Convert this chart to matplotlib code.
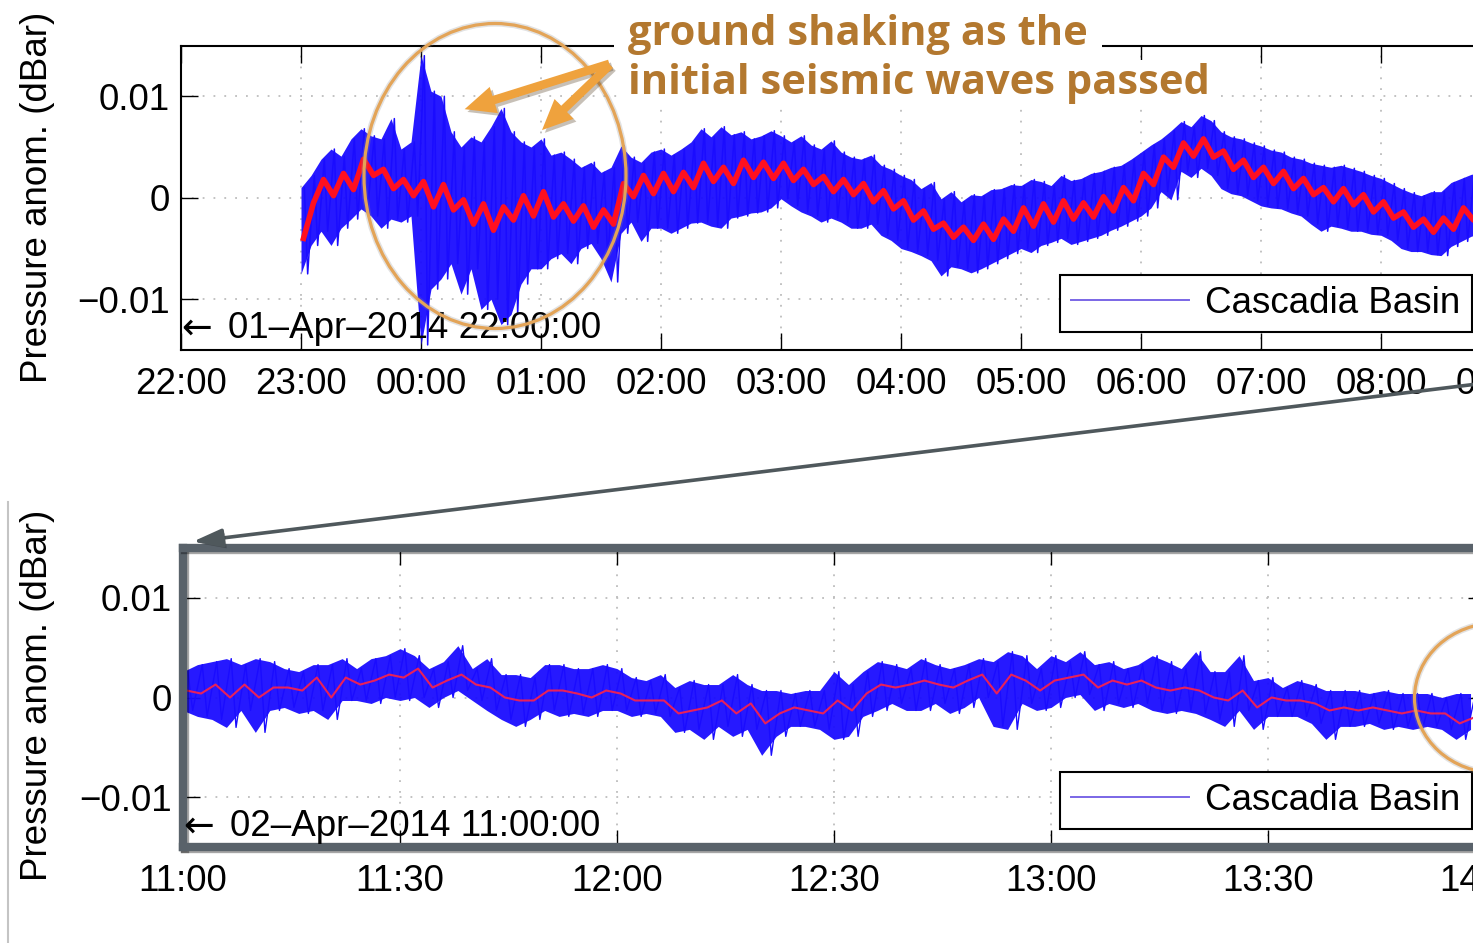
import matplotlib
matplotlib.use("Agg")
import matplotlib.pyplot as plt
import matplotlib.patheffects as pe
from matplotlib.lines import Line2D
from matplotlib.patches import Ellipse, FancyArrowPatch

plt.rcParams["font.family"] = ["Liberation Sans", "DejaVu Sans"]

W, H = 1473, 943
FS = 26.5
MDBAR = 1e-3          # all series below are in units of 0.001 dBar

# ─── Top panel: 01-Apr-2014 22:00 → 02-Apr 09:00, 5-min envelope ──────────────
top_ticklabels = ["22:00", "23:00", "00:00", "01:00", "02:00", "03:00",
                  "04:00", "05:00", "06:00", "07:00", "08:00", "09:00"]
top_start_h = 1.0            # data begins at 23:00 (hours after 22:00)
top_step_h = 5 / 60

top_hi = [1.0, 2.2, 3.8, 4.8, 4.1, 5.8, 6.8, 6.1, 5.8, 7.8, 4.8, 5.5,
          14.0, 10.5, 10.0, 6.5, 5.0, 6.0, 5.5, 7.0, 8.8, 6.5, 5.5, 5.0,
          5.8, 4.2, 4.5, 3.8, 3.0, 3.5, 2.5, 3.0, 5.1, 4.0, 3.5, 4.5,
          4.8, 4.2, 4.8, 5.5, 6.8, 6.0, 7.0, 6.2, 6.5, 5.8, 6.1, 6.6,
          6.1, 5.5, 6.1, 5.2, 4.8, 5.6, 4.5, 4.0, 3.8, 4.2, 3.2, 2.8,
          2.2, 1.8, 0.9, 1.5, -0.1, 0.6, -0.4, 0.3, 0.2, 0.8, 0.9, 1.3,
          1.2, 1.8, 1.6, 1.2, 2.2, 1.7, 1.9, 2.4, 2.6, 3.0, 3.2, 3.8,
          4.5, 5.2, 5.8, 6.6, 7.5, 7.0, 8.1, 7.6, 6.5, 6.0, 5.8, 5.4,
          5.1, 4.7, 4.5, 4.0, 3.8, 3.4, 3.2, 3.0, 3.2, 2.9, 2.6, 2.2,
          1.9, 1.4, 0.9, 0.5, 0.2, 0.6, 0.6, 1.5, 1.9, 2.3, 2.5, 2.8]
top_lo = [-7.5, -4.7, -3.3, -4.7, -3.0, -2.1, -1.1, -1.8, -3.0, -2.1, -2.4, -1.8,
          -14.5, -9.0, -8.0, -6.5, -9.5, -7.0, -11.0, -10.0, -12.5, -11.5, -8.5, -7.0,
          -7.0, -6.0, -5.5, -6.5, -5.0, -4.5, -6.0, -8.3, -3.5, -2.4, -4.3, -3.0,
          -3.0, -3.5, -3.0, -2.5, -2.4, -2.8, -3.0, -2.0, -1.8, -1.5, -1.4, -1.0,
          -0.1, -0.8, -1.4, -1.8, -2.4, -2.0, -2.4, -3.0, -3.0, -2.6, -3.7, -4.2,
          -5.0, -5.3, -5.7, -6.2, -7.7, -6.8, -7.0, -7.4, -7.0, -6.5, -6.0, -5.5,
          -5.0, -5.4, -4.7, -4.4, -4.0, -4.6, -4.3, -4.0, -3.7, -3.2, -2.8, -2.3,
          -1.8, -1.0, 0.6, -0.2, 2.6, 2.0, 2.9, 2.2, 0.9, 0.4, 0.2, -0.3,
          -0.8, -1.0, -1.1, -1.5, -1.8, -2.6, -3.3, -2.8, -3.0, -3.3, -3.3, -3.6,
          -3.7, -4.2, -5.0, -5.3, -5.3, -5.6, -5.7, -4.8, -4.3, -3.8, -3.5, -3.2]
top_red = [-4.0, -0.5, 1.8, 0.2, 2.4, 0.8, 3.8, 2.2, 2.8, 0.9, 1.8, 0.2,
           1.6, -0.9, 1.3, -1.2, -0.2, -2.6, -0.6, -3.2, -0.9, -2.2, 0.2, -1.8,
           0.6, -1.9, -0.6, -2.3, -0.8, -2.9, -1.2, -2.6, 1.4, 0.1, 2.2, 0.4,
           2.4, 0.6, 2.5, 1.0, 3.4, 1.6, 3.0, 1.4, 3.7, 2.0, 3.5, 1.9,
           3.4, 1.7, 2.8, 1.3, 2.1, 0.6, 1.8, 0.3, 1.4, -0.4, 0.7, -1.1,
           -0.3, -2.2, -1.3, -3.1, -2.5, -3.9, -2.9, -4.2, -2.6, -4.1, -2.1, -3.3,
           -1.0, -2.8, -0.6, -2.4, -0.3, -2.1, -0.5, -1.9, 0.1, -1.3, 1.0, -0.3,
           2.4, 1.3, 4.0, 3.0, 5.4, 4.1, 5.8, 4.0, 4.6, 2.8, 3.7, 2.0,
           3.0, 1.4, 2.6, 0.9, 1.9, 0.3, 1.0, -0.4, 0.9, -0.7, 0.3, -1.4,
           -0.4, -2.0, -1.4, -2.9, -2.1, -3.4, -2.0, -3.1, -1.0, -2.2, -0.3, -1.6]

# ─── Bottom panel: 02-Apr-2014 11:00 → 14:00, 2-min envelope ──────────────────
bot_ticklabels = ["11:00", "11:30", "12:00", "12:30", "13:00", "13:30", "14:00"]
bot_step_min = 2.0

bot_hi = [2.6, 3.3, 3.6, 3.9, 3.3, 3.9, 3.6, 2.9, 2.6, 3.3,
          3.3, 3.9, 2.9, 3.9, 4.2, 4.9, 4.2, 2.9, 3.6, 5.2,
          2.9, 3.9, 2.3, 2.3, 2.0, 3.3, 3.3, 2.9, 2.9, 3.3,
          2.9, 2.0, 1.7, 2.3, 1.0, 1.7, 1.3, 1.3, 2.3, 1.3,
          0.7, 0.7, 0.4, 0.7, 0.7, 2.6, 1.3, 2.6, 3.6, 3.3,
          2.9, 3.9, 3.3, 2.9, 3.3, 3.9, 3.6, 4.6, 4.2, 2.9,
          4.2, 3.6, 4.6, 3.3, 3.6, 2.9, 3.3, 4.2, 3.6, 2.9,
          4.6, 2.6, 2.6, 4.2, 1.7, 2.0, 1.0, 1.7, 1.3, 0.7,
          0.7, 0.7, 0.4, 0.7, 0.4, 0.4, 0.4, 0.0, 0.4, 0.4]
bot_lo = [-1.3, -1.9, -2.2, -3.0, -1.3, -3.5, -1.3, -1.0, -1.6, -1.3,
          -2.2, -0.3, -0.3, -0.6, 0.0, -0.3, 0.0, -1.0, 0.0, 0.7,
          -0.3, -1.3, -2.2, -2.9, -2.2, -1.3, -1.9, -1.6, -1.9, -1.3,
          -1.3, -1.9, -1.6, -1.9, -3.5, -3.2, -4.2, -2.9, -3.9, -3.2,
          -5.8, -3.9, -2.9, -2.9, -3.2, -4.2, -3.9, -1.9, -1.3, -0.6,
          -1.3, -1.3, -0.6, -1.6, -1.0, 0.0, -2.9, -3.2, -0.6, -1.3,
          -1.0, 0.0, 0.3, -1.3, -0.6, -1.0, -0.6, -1.3, -1.6, -1.3,
          -1.6, -2.2, -2.9, -1.3, -3.2, -1.9, -1.9, -1.9, -2.6, -4.2,
          -2.9, -2.9, -2.6, -3.2, -2.9, -3.2, -2.9, -3.2, -4.2, -3.2]
bot_red = [0.7, 0.4, 1.3, 0.0, 1.3, 0.0, 1.0, 1.0, 0.7, 2.0,
           0.0, 2.0, 1.3, 1.7, 2.3, 2.0, 2.9, 1.0, 1.7, 2.3,
           1.3, 1.0, 0.0, -0.3, -0.3, 0.7, 0.7, 0.4, 0.0, 0.7,
           0.4, -0.3, -0.3, -0.3, -1.6, -1.3, -1.0, -0.3, -1.6, -0.6,
           -2.6, -1.6, -1.0, -1.3, -1.6, -0.3, -1.3, 0.4, 1.3, 1.0,
           1.3, 1.7, 1.3, 1.0, 1.7, 2.3, 0.4, 2.3, 1.7, 0.7,
           1.7, 2.0, 2.3, 1.0, 1.7, 1.3, 1.7, 1.0, 0.7, 1.0,
           0.7, 0.0, -0.3, 0.7, -1.0, 0.0, -0.3, -0.3, -0.6, -1.3,
           -1.0, -1.3, -1.0, -1.3, -1.6, -1.3, -1.6, -1.6, -2.6, -2.0]

y_ticks = [-0.01, 0, 0.01]
y_ticklabels = ["\u22120.01", "0", "0.01"]

BLUE = "#1a0cff"
RED = "#ff1020"
ORANGE_TXT = "#b3782f"
ORANGE = "#e3a458"
FRAME_GRAY = "#59626a"


def px(x, y):
    """Figure pixel (origin top-left) -> figure fraction."""
    return x / W, 1 - y / H


def draw_trace(ax, start, step, hi, lo, red, lw_blue, lw_red, red_color):
    t = [start + i * step for i in range(len(hi))]
    ax.fill_between(t, [v * MDBAR for v in lo], [v * MDBAR for v in hi],
                    color=BLUE, lw=0, alpha=0.95)
    # min/max strokes, set between the envelope vertices so the peaks show
    xs, ys = [], []
    for ti, h, l in zip(t, hi, lo):
        xs += [ti + step / 3, ti + 2 * step / 3]
        ys += [h * MDBAR, l * MDBAR]
    ax.plot(xs, ys, color=BLUE, lw=lw_blue)
    ax.plot([ti + step / 4 for ti in t], [v * MDBAR for v in red],
            color=red_color, lw=lw_red)


def style_axes(ax, ticks, labels):
    ax.set_xticks(ticks)
    ax.set_xticklabels(labels)
    ax.set_yticks(y_ticks)
    ax.set_yticklabels(y_ticklabels)
    ax.set_ylim(-0.015, 0.015)
    ax.tick_params(direction="in", length=12, width=1.0, top=True, right=True,
                   labelsize=FS, pad=12)
    ax.tick_params(axis="y", pad=8)
    ax.grid(True, color="#bdbdbd", linestyle=(0, (1, 5)), linewidth=1.3)
    ax.set_axisbelow(True)


def add_legend(ax, anchor):
    leg = ax.legend(handles=[Line2D([], [], color="#7a66e6", lw=1.4)],
                    labels=["Cascadia Basin"], loc="upper left",
                    bbox_to_anchor=px(*anchor), bbox_transform=fig.transFigure,
                    borderaxespad=0, borderpad=0.3, handlelength=3.2,
                    handletextpad=0.45, fontsize=FS, fancybox=False,
                    framealpha=1, edgecolor="black")
    leg.get_frame().set_linewidth(1.5)


def date_stamp(ax, x_text, y, label):
    ax.text(0.0, y, "\u2190", transform=ax.transAxes, fontsize=FS,
            family="DejaVu Sans", va="center", ha="left")
    ax.text(x_text, y, label, transform=ax.transAxes, fontsize=FS,
            va="center", ha="left")


fig = plt.figure(figsize=(W / 100, H / 100), dpi=100)

# ── top axes ──────────────────────────────────────────────────────────────────
ax1 = fig.add_axes([181 / W, 1 - 350 / H, 1320 / W, 304.5 / H])
draw_trace(ax1, top_start_h, top_step_h, top_hi, top_lo, top_red, 1.1, 4.0, RED)
ax1.set_xlim(0, 11)
style_axes(ax1, list(range(12)), top_ticklabels)
for s in ax1.spines.values():
    s.set_linewidth(1.5)
date_stamp(ax1, 47 / 1320, 0.072, "01\u2013Apr\u20132014 22:00:00")
add_legend(ax1, (1060, 275))

# ── bottom axes ───────────────────────────────────────────────────────────────
ax2 = fig.add_axes([183 / W, 1 - 847 / H, 1302 / W, 299 / H])
draw_trace(ax2, 0.0, bot_step_min, bot_hi, bot_lo, bot_red, 1.0, 1.5, "#e8205a")
ax2.set_xlim(0, 180)
style_axes(ax2, list(range(0, 181, 30)), bot_ticklabels)
for s in ax2.spines.values():
    s.set_linewidth(6)
    s.set_color(FRAME_GRAY)
    s.set_path_effects([pe.SimpleLineShadow(offset=(1.5, -1.5), alpha=0.35),
                        pe.Normal()])
date_stamp(ax2, 47 / 1302, 0.07, "02\u2013Apr\u20132014 11:00:00")
add_legend(ax2, (1060, 772))

# ── y labels ──────────────────────────────────────────────────────────────────
for yc in (197, 695):
    fig.text(*px(38, yc), "Pressure anom. (dBar)", rotation=90, fontsize=FS,
             ha="center", va="center")

# ── figure-level annotations ──────────────────────────────────────────────────
shadow = [pe.SimplePatchShadow(offset=(2, -2), alpha=0.3), pe.Normal()]
halo = [pe.Stroke(linewidth=4.5, foreground=(0.55, 0.55, 0.55, 0.25)), pe.Normal()]

fig.add_artist(Line2D([8 / W, 8 / W], [1 - 502 / H, 0], transform=fig.transFigure,
                      color="#c4c4c4", lw=1.5))

zoom_arrow = FancyArrowPatch(px(1510, 380), px(190, 542), transform=fig.transFigure,
                             arrowstyle="-|>,head_length=0.8,head_width=0.25",
                             mutation_scale=22, lw=2.6, color="#4f585c",
                             path_effects=shadow, zorder=5)
fig.add_artist(zoom_arrow)

for (cx, cy, ew, eh) in [(495, 176, 262, 305), (1497, 698, 165, 150)]:
    fig.add_artist(Ellipse(px(cx, cy), ew / W, eh / H, transform=fig.transFigure,
                           fill=False, edgecolor=ORANGE, lw=2.3,
                           path_effects=halo, zorder=6))

for head in [(462, 110), (540, 132)]:
    fig.add_artist(FancyArrowPatch(px(612, 63), px(*head), transform=fig.transFigure,
                                   arrowstyle="simple,head_length=1.0,head_width=0.9,tail_width=0.28",
                                   mutation_scale=22, color="#efa23d", lw=0,
                                   path_effects=shadow, zorder=7))

txt_kw = dict(fontsize=30, fontweight="bold", color=ORANGE_TXT,
              family=["Open Sans", "DejaVu Sans"], ha="left", va="baseline", zorder=8)
fig.text(*px(628, 45), "ground shaking as the",
         bbox=dict(facecolor="white", edgecolor="none", pad=10), **txt_kw)
fig.text(*px(628, 94), "initial seismic waves passed",
         bbox=dict(facecolor="white", edgecolor="none", pad=2), **txt_kw)

fig.savefig("out.png", dpi=100)
